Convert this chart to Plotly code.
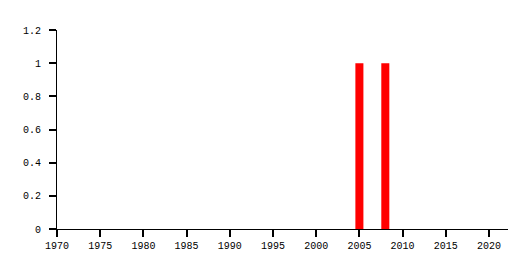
import plotly.graph_objects as go

years = [2005, 2008]
values = [1, 1]
x_ticks = [1970, 1975, 1980, 1985, 1990, 1995, 2000, 2005, 2010, 2015, 2020]
y_ticks = [0, 0.2, 0.4, 0.6, 0.8, 1, 1.2]
y_labels = ["0", "0.2", "0.4", "0.6", "0.8", "1", "1.2"]

fig = go.Figure(go.Bar(x=years, y=values, width=0.93, marker=dict(color="#ff0000", line=dict(width=0))))

font = dict(family="Liberation Mono", size=10, color="#000000")
fig.update_layout(
    width=527, height=270,
    margin=dict(l=57, r=19, t=30, b=41, autoexpand=False),
    paper_bgcolor="white", plot_bgcolor="white",
    showlegend=False,
    font=font,
    xaxis=dict(range=[1970, 2022.2], tickvals=x_ticks, ticktext=[str(t) for t in x_ticks],
               showgrid=False, zeroline=False, showline=True, linecolor="#000000", linewidth=1,
               ticks="outside", ticklen=7, tickwidth=1.5, tickcolor="#000000", tickfont=font,
               automargin=False),
    yaxis=dict(range=[0, 1.2], tickvals=y_ticks, ticktext=[s + " " for s in y_labels],
               showgrid=False, zeroline=False, showline=True, linecolor="#000000", linewidth=1,
               ticks="outside", ticklen=7, tickwidth=1.5, tickcolor="#000000", tickfont=font,
               automargin=False),
)
fig.write_html("out.html")
